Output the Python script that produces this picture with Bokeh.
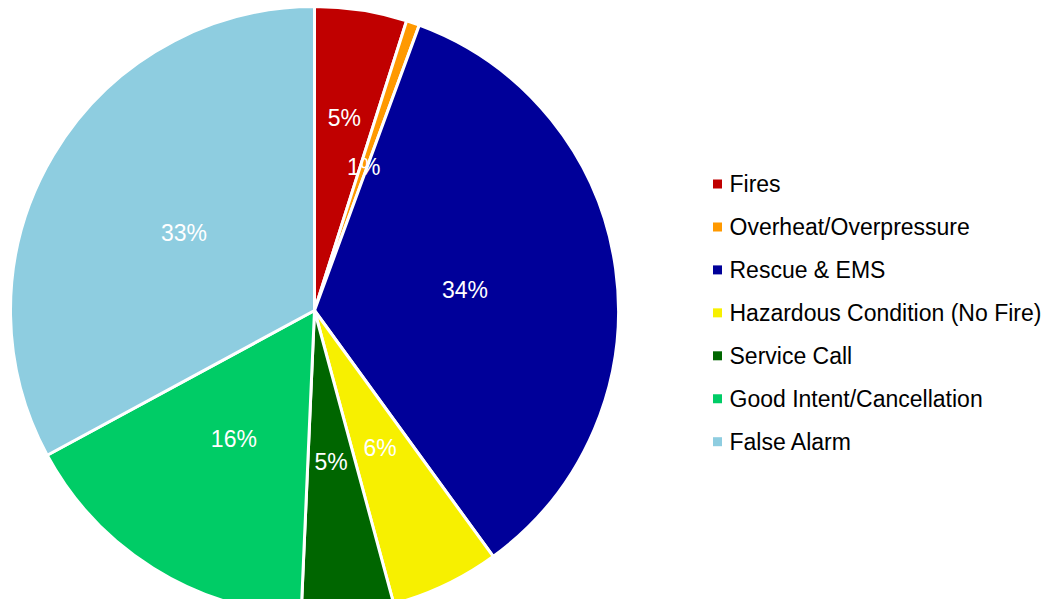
import math
from bokeh.plotting import figure
from bokeh.models import Range1d, ColumnDataSource
from bokeh.core.properties import value
from bokeh.embed import file_html
from bokeh.resources import INLINE

# ---- data ----
categories = ["Fires", "Overheat/Overpressure", "Rescue & EMS",
              "Hazardous Condition (No Fire)", "Service Call",
              "Good Intent/Cancellation", "False Alarm"]
shares = [4.9, 0.7, 34.4, 5.8, 4.9, 16.4, 32.9]
colors = ["#C00000", "#FF9900", "#000099", "#F7F000", "#006600", "#00CC66", "#8ECDE0"]

# ---- layout (pixel units of the picture, y up = -picture_y) ----
W, H = 1043, 599
FONT = "Liberation Sans"
cx, cy, R = 314, -310, 304
label_r = [0.64, 0.5, 0.5, 0.5, 0.5, 0.5, 0.5]

p = figure(width=W, height=H, output_backend="svg", toolbar_location=None,
           x_range=Range1d(0, W), y_range=Range1d(-H, 0),
           min_border=0)
p.axis.visible = False
p.grid.visible = False
p.outline_line_color = None
p.background_fill_color = "white"
p.border_fill_color = "white"

total = float(sum(shares))
starts, ends, lx, ly, labels = [], [], [], [], []
cum = 0.0
for i, v in enumerate(shares):
    a0 = cum / total * 2 * math.pi
    cum += v
    a1 = cum / total * 2 * math.pi
    starts.append(math.pi / 2 - a0)
    ends.append(math.pi / 2 - a1)
    mid = (a0 + a1) / 2
    lx.append(cx + label_r[i] * R * math.sin(mid))
    ly.append(cy + label_r[i] * R * math.cos(mid))
    labels.append(f"{round(v / total * 100)}%")

src = ColumnDataSource(dict(start=starts, end=ends, color=colors,
                            lx=lx, ly=ly, label=labels))
p.wedge(x=cx, y=cy, radius=R, start_angle="start", end_angle="end",
        direction="clock", fill_color="color", line_color="white",
        line_width=3, source=src)
p.text(x="lx", y="ly", text="label", source=src, text_color="white",
       text_font=value(FONT), text_font_size="23px", text_align="center",
       text_baseline="middle")

# legend
leg_x, leg_y0, leg_dy = 717, -183.5, -42.95
ys = [leg_y0 + i * leg_dy for i in range(len(categories))]
lsrc = ColumnDataSource(dict(x=[leg_x] * len(categories), y=ys,
                             tx=[leg_x + 12] * len(categories),
                             ty=ys,
                             name=categories, color=colors))
p.scatter(x="x", y="y", marker="square", size=9, fill_color="color",
          line_color=None, source=lsrc)
p.text(x="tx", y="ty", text="name", source=lsrc, text_color="black",
       text_font=value(FONT), text_font_size="23px", text_align="left",
       text_baseline="middle")

open("out.html", "w").write(file_html(p, INLINE))
